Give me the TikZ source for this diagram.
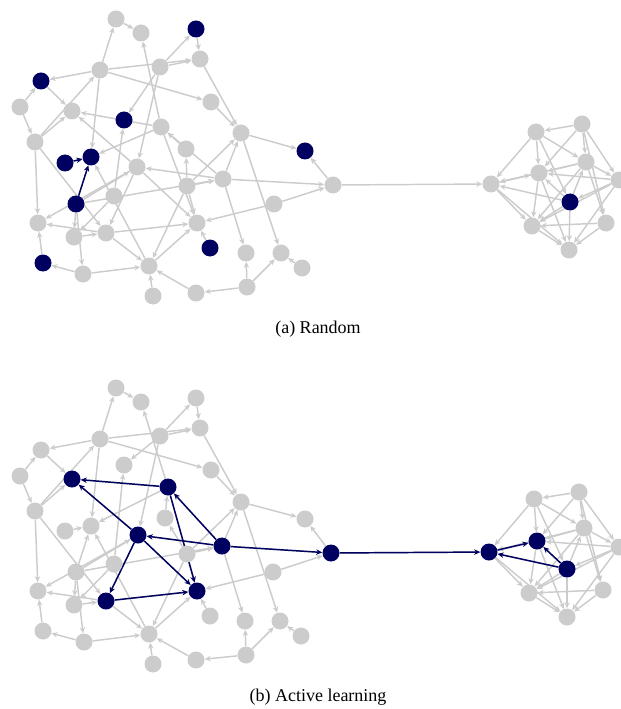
\documentclass[tikz,border=0pt]{standalone}
\usepackage{fontspec}
\setmainfont{Liberation Serif}
\usetikzlibrary{arrows.meta,backgrounds}
\definecolor{navy}{RGB}{0,0,96}
\definecolor{lgray}{RGB}{204,204,204}
\tikzset{
  gnode/.style={circle,fill=lgray,inner sep=0pt,minimum size=12.75pt},
  dnode/.style={circle,fill=navy,inner sep=0pt,minimum size=12.75pt},
  gedge/.style={draw=lgray,line width=1.1pt,-{Stealth[length=4.5pt,width=4pt]}},
  dedge/.style={draw=navy,line width=1.1pt,-{Stealth[length=4.5pt,width=4pt]}},
  caption/.style={font=\fontsize{13.5}{16}\selectfont}
}
% directed edges shared by both panels (source/target)
\def\edgelist{5/1, 1/2, 5/7, 5/4, 6/4, 6/3, 3/4, 5/10, 6/11, 12/2, 6/19, 7/9, 8/7,
  8/13, 13/9, 13/5, 12/9, 17/12, 24/11, 12/15, 5/15, 16/15, 23/15, 13/26, 13/28,
  19/26, 27/28, 28/26, 19/28, 24/27, 35/15, 33/26, 34/33, 34/35, 39/35, 28/35,
  38/35, 23/34, 23/27, 19/9, 20/12, 12/29, 28/29, 20/19, 19/29, 20/22, 23/20,
  23/19, 21/17, 21/14, 20/14, 21/29, 25/29, 20/31, 21/35, 10/14, 4/14, 14/18,
  22/18, 25/22, 30/29, 14/32, 37/31, 37/32, 36/32, 37/38, 21/20, 35/29, 22/R1,
  R3/R2, R2/R1, R2/R4, R3/R4, R3/R5, R3/R7, R2/R5, R4/R1, R1/R4, R6/R1, R5/R1,
  R1/R8, R4/R8, R4/R10, R6/R8, R6/R10, R7/R8, R7/R10, R9/R8, R9/R10, R5/R9,
  R5/R7, R7/R4, R5/R4, R6/R4, R6/R5, R8/R10, R7/R6, R1/R10, R5/R8, R3/R9, R2/R6}
\begin{document}
\begin{tikzpicture}[x=0.75pt,y=-0.75pt]
\useasboundingbox (0,0) rectangle (620,709);

% ---------- panel (a): random selection ----------
\foreach \n/\x/\y in {1/116/19, 2/141/33, 4/200/59, 5/100/70, 6/160/67, 8/20/107,
  9/72/111, 10/211/102, 12/161/127, 13/35/142, 14/241/133, 17/186/149,
  19/137/167, 20/223/179, 21/187/186, 22/333/185, 24/114/196, 25/274/204,
  26/38/223, 27/74/237, 28/106/233, 29/197/223, 31/246/253, 32/281/253,
  34/83/274, 35/149/266, 36/302/268, 37/247/287, 38/196/293, 39/153/296,
  R1/491/184, R2/536/132, R3/582/124, R4/539/173, R5/586/162, R7/619/180,
  R8/532/226, R9/606/223, R10/569/250}
  \node[gnode] (a\n) at (\x,\y) {};
\foreach \n/\x/\y in {3/196/29, 7/41/81, 11/124/120, 15/91/157, 16/65/163,
  18/305/151, 23/76/204, 30/210/248, 33/43/263, R6/570/202}
  \node[dnode] (a\n) at (\x,\y) {};
\begin{pgfonlayer}{background}
  \foreach \s/\t in \edgelist \draw[gedge] (a\s) -- (a\t);
  \foreach \s/\t in {16/15, 23/15} \draw[dedge] (a\s) -- (a\t);
\end{pgfonlayer}
\node[caption] (capa) at (318,329) {(a) Random};

% ---------- panel (b): active learning ----------
\foreach \n/\x/\y in {1/116/388, 2/141/402, 3/196/398, 4/200/428, 5/100/439,
  6/160/436, 7/41/450, 8/20/476, 10/211/470, 11/124/465, 13/35/511,
  14/241/502, 15/91/526, 16/65/531, 17/165/518, 18/305/519, 21/187/554,
  23/76/572, 24/114/564, 25/273/572, 26/38/591, 27/74/605, 30/210/616,
  31/245/621, 32/280/621, 33/43/631, 34/84/642, 35/149/634, 36/301/636,
  37/246/655, 38/196/660, 39/153/664,
  R2/534/499, R3/579/492, R5/584/528, R7/619/547, R8/529/593, R9/603/590,
  R10/567/617}
  \node[gnode] (b\n) at (\x,\y) {};
\foreach \n/\x/\y in {9/72/479, 12/168/487, 19/138/535, 20/222/546,
  22/331/553, 28/106/601, 29/197/591, R1/489/552, R4/537/541, R6/567/569}
  \node[dnode] (b\n) at (\x,\y) {};
\begin{pgfonlayer}{background}
  \foreach \s/\t in \edgelist \draw[gedge] (b\s) -- (b\t);
  \foreach \s/\t in {12/9, 19/9, 20/12, 12/29, 19/28, 20/19, 19/29, 28/29,
    20/22, 22/R1, R1/R4, R6/R4, R6/R1} \draw[dedge] (b\s) -- (b\t);
\end{pgfonlayer}
\node[caption] (capb) at (318,697) {(b) Active learning};
\end{tikzpicture}
\end{document}
